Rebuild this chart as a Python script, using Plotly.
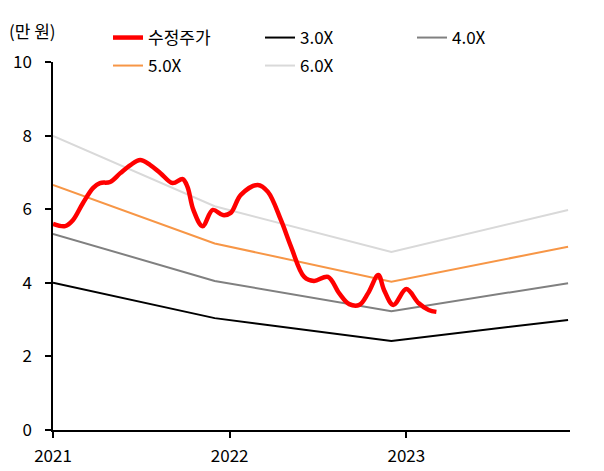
import plotly.graph_objects as go

# Band (PER multiple) lines, values in 만 원
band_dates = ["2021-01-01", "2021-12-01", "2022-12-01", "2023-12-01"]
band_3x = [4.00, 3.04, 2.42, 2.99]
band_4x = [5.33, 4.05, 3.23, 3.99]
band_5x = [6.66, 5.07, 4.03, 4.98]
band_6x = [7.99, 6.08, 4.84, 5.98]

# Adjusted stock price (수정주가), 만 원
price_dates = [
    "2021-01-01", "2021-01-26", "2021-02-11", "2021-03-04", "2021-03-25",
    "2021-04-08", "2021-04-29", "2021-05-20", "2021-06-10", "2021-06-30",
    "2021-07-21", "2021-08-11", "2021-09-05", "2021-09-26", "2021-10-06",
    "2021-10-18", "2021-11-06", "2021-11-27", "2021-12-18", "2022-01-03",
    "2022-01-24", "2022-02-28", "2022-03-21", "2022-04-17", "2022-05-08",
    "2022-06-04", "2022-06-24", "2022-07-23", "2022-08-15", "2022-09-05",
    "2022-09-26", "2022-10-14", "2022-11-04", "2022-11-16", "2022-12-05",
    "2023-01-01", "2023-01-26", "2023-02-16", "2023-03-04",
]
price = [
    5.60, 5.54, 5.70, 6.17, 6.58,
    6.71, 6.74, 6.98, 7.20, 7.34,
    7.20, 6.98, 6.71, 6.82, 6.60,
    5.98, 5.54, 5.98, 5.84, 5.90,
    6.39, 6.66, 6.47, 5.70, 4.97,
    4.16, 4.05, 4.16, 3.72, 3.42,
    3.40, 3.72, 4.21, 3.80, 3.40,
    3.83, 3.45, 3.26, 3.21,
]

year_ticks = ["2021-01-01", "2022-01-01", "2023-01-01"]
year_labels = ["2021", "2022", "2023"]

FONT = "Noto Sans CJK KR"
FS = 17

fig = go.Figure()

bands = [
    ("3.0X", band_3x, "#000000", "legend", 2),
    ("4.0X", band_4x, "#808080", "legend", 3),
    ("5.0X", band_5x, "#F79646", "legend2", 1),
    ("6.0X", band_6x, "#D9D9D9", "legend2", 2),
]
for name, vals, color, lg, rank in bands:
    fig.add_trace(go.Scatter(
        x=band_dates, y=vals, name=name, mode="lines",
        line=dict(color=color, width=2),
        legend=lg, legendrank=rank,
    ))

fig.add_trace(go.Scatter(
    x=price_dates, y=price, name="수정주가", mode="lines",
    line=dict(color="#FF0000", width=4.5, shape="spline", smoothing=1.0),
    legend="legend", legendrank=1,
))

legend_common = dict(
    orientation="h", xref="container", yref="container",
    xanchor="left", yanchor="middle",
    entrywidth=107, entrywidthmode="pixels",
    font=dict(family=FONT, size=FS), bgcolor="rgba(0,0,0,0)",
    itemwidth=30, tracegroupgap=0,
)

fig.update_layout(
    width=604, height=471,
    margin=dict(l=53, r=34, t=62, b=41, autoexpand=False),
    paper_bgcolor="white", plot_bgcolor="white",
    font=dict(family=FONT, size=FS, color="#000000"),
    legend=dict(legend_common, x=108 / 604, y=1 - 38 / 471),
    legend2=dict(legend_common, x=108 / 604, y=1 - 66 / 471),
    showlegend=True,
)

fig.update_xaxes(
    type="date", range=["2021-01-01", "2023-12-05"],
    tickvals=year_ticks, ticktext=year_labels,
    showgrid=False, zeroline=False,
    showline=True, linecolor="#000000", linewidth=1.5,
    ticks="outside", ticklen=6, tickwidth=1.5, tickcolor="#000000",
    ticklabelstandoff=4,
)
fig.update_yaxes(
    range=[0, 10], tickvals=[0, 2, 4, 6, 8, 10],
    showgrid=False, zeroline=False,
    showline=True, linecolor="#000000", linewidth=1.5,
    ticks="outside", ticklen=6, tickwidth=1.5, tickcolor="#000000",
    ticklabelstandoff=10,
)

fig.add_annotation(
    text="(만 원)", xref="paper", yref="paper",
    x=-46 / 517, y=1 + 32 / 368, xanchor="left", yanchor="middle",
    showarrow=False, font=dict(family=FONT, size=FS),
)

fig.write_html("out.html")
